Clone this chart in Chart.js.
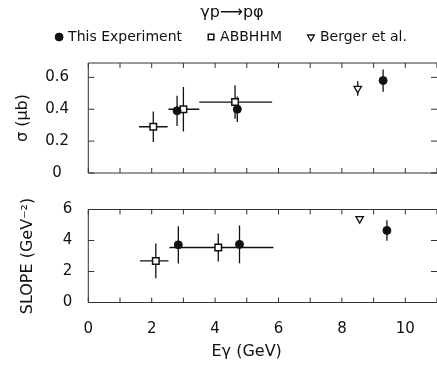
<!DOCTYPE html>
<html><head><meta charset="utf-8">
<script src="https://cdn.jsdelivr.net/npm/chart.js@4"></script>
<style>
html,body{margin:0;padding:0;background:#fff;overflow:hidden;width:437px;height:369px;}
canvas{position:absolute;left:0;}
#c1{top:0}
#c2{top:185px}
</style></head><body>
<canvas id="c1" width="437" height="182"></canvas>
<canvas id="c2" width="437" height="184"></canvas>
<script>
// ---- text ----
const reactionTitle = 'γp⟶pφ';
const seriesNames = ['This Experiment', 'ABBHHM', 'Berger et al.'];
const xTitle = 'Eγ (GeV)';
const sigmaTitle = 'σ (μb)';
const slopeTitle = 'SLOPE (GeV⁻²)';
const xTickLabels = ['0', '2', '4', '6', '8', '10'];
const sigmaTickLabels = ['0', '0.2', '0.4', '0.6'];
const slopeTickLabels = ['0', '2', '4', '6'];

// ---- cross section (top panel) ----
const sigmaExpE = [2.8, 4.7, 9.3];
const sigmaExp = [0.39, 0.40, 0.58];
const sigmaExpErr = [0.095, 0.08, 0.07];
const sigmaAbbE = [2.05, 3.0, 4.63];
const sigmaAbb = [0.29, 0.40, 0.445];
const sigmaAbbErr = [0.095, 0.14, 0.105];
const sigmaAbbElo = [1.6, 2.53, 3.5];
const sigmaAbbEhi = [2.5, 3.5, 5.8];
const sigmaBergerE = [8.5];
const sigmaBerger = [0.53];
const sigmaBergerErr = [0.045];

// ---- slope (bottom panel) ----
const slopeExpE = [2.84, 4.77, 9.42];
const slopeExp = [3.72, 3.75, 4.65];
const slopeExpErr = [1.2, 1.22, 0.66];
const slopeAbbE = [2.13, 4.1];
const slopeAbb = [2.68, 3.55];
const slopeAbbErr = [1.12, 0.9];
const slopeAbbElo = [1.63, 2.56];
const slopeAbbEhi = [2.53, 5.84];
const slopeBergerE = [8.56];
const slopeBerger = [5.4];

Chart.defaults.font.family = "'DejaVu Sans', sans-serif";
Chart.defaults.color = '#111';

function pts(xs, ys) { return xs.map((x, i) => ({x: x, y: ys[i]})); }

const INK = '#111';

const errorBars = {
  id: 'errorBars',
  beforeDatasetsDraw(chart) {
    const ctx = chart.ctx, x = chart.scales.x, y = chart.scales.y;
    ctx.save();
    ctx.strokeStyle = INK;
    ctx.lineWidth = 1.3;
    chart.data.datasets.forEach(ds => {
      ds.data.forEach((p, i) => {
        const px = x.getPixelForValue(p.x), py = y.getPixelForValue(p.y);
        ctx.beginPath();
        if (ds.yErr) {
          const e = ds.yErr[i];
          ctx.moveTo(px, y.getPixelForValue(p.y - e));
          ctx.lineTo(px, y.getPixelForValue(p.y + e));
        }
        if (ds.xLo) {
          ctx.moveTo(x.getPixelForValue(ds.xLo[i]), py);
          ctx.lineTo(x.getPixelForValue(ds.xHi[i]), py);
        }
        ctx.stroke();
      });
    });
    ctx.restore();
  }
};

const frame = {
  id: 'frame',
  beforeDatasetsDraw(chart) {
    const ctx = chart.ctx, a = chart.chartArea, x = chart.scales.x, y = chart.scales.y;
    ctx.save();
    ctx.strokeStyle = '#333';
    ctx.lineWidth = 1;
    ctx.beginPath();
    ctx.moveTo(a.right, a.top); ctx.lineTo(a.left, a.top);
    ctx.lineTo(a.left, a.bottom); ctx.lineTo(a.right, a.bottom);
    x.ticks.forEach(t => {
      const px = x.getPixelForValue(t.value);
      ctx.moveTo(px, a.bottom); ctx.lineTo(px, a.bottom - 5);
      ctx.moveTo(px, a.top); ctx.lineTo(px, a.top + 5);
    });
    y.ticks.forEach(t => {
      const py = y.getPixelForValue(t.value);
      ctx.moveTo(a.left, py); ctx.lineTo(a.left + 6, py);
      ctx.moveTo(a.right, py); ctx.lineTo(a.right - 6, py);
    });
    ctx.stroke();
    ctx.restore();
  }
};

function makeDatasets(expE, exp, expErr, abbE, abb, abbErr, abbLo, abbHi, berE, ber, berErr) {
  return [
    {label: seriesNames[0], data: pts(expE, exp), yErr: expErr,
     pointStyle: 'circle', pointRadius: 4, pointBackgroundColor: INK, backgroundColor: INK,
     pointBorderColor: INK, borderColor: INK, pointBorderWidth: 1},
    {label: seriesNames[1], data: pts(abbE, abb), yErr: abbErr, xLo: abbLo, xHi: abbHi,
     pointStyle: 'rect', pointRadius: 4.6, pointBackgroundColor: '#fff', backgroundColor: '#fff',
     pointBorderColor: INK, borderColor: INK, pointBorderWidth: 1.5},
    {label: seriesNames[2], data: pts(berE, ber), yErr: berErr,
     pointStyle: 'triangle', pointRotation: 180, pointRadius: 4.3, pointBackgroundColor: '#fff', backgroundColor: '#fff',
     pointBorderColor: INK, borderColor: INK, pointBorderWidth: 1.3}
  ];
}

const PAD_L = 27;
const Y_W = 61.3;

function xScale(showLabels) {
  return {
    type: 'linear', position: 'bottom', min: 0, max: 11,
    grid: {display: false, drawTicks: true, tickLength: 17.7}, border: {display: false},
    ticks: {
      display: showLabels, stepSize: 1, autoSkip: false, maxRotation: 0, padding: 0,
      font: {size: 15},
      callback: v => xTickLabels.includes(String(v)) ? String(v) : ''
    },
    title: showLabels ? {display: true, text: xTitle + '\u2003\u2003', font: {size: 16}, padding: {top: 0, bottom: 7.4}} : {display: false},
    afterFit: s => { s.height = showLabels ? 66.5 : 0; }
  };
}

function yScale(max, step, labels, title, titlePad, tickLen) {
  return {
    type: 'linear', position: 'left', min: 0, max: max,
    grid: {display: false, drawTicks: true, tickLength: tickLen}, border: {display: false},
    ticks: {
      stepSize: step, includeBounds: false, crossAlign: 'center', padding: 0,
      font: {size: 15},
      callback: v => { const s = String(+(+v).toFixed(1)); return labels.includes(s) ? s : ''; }
    },
    title: {display: true, text: title, font: {size: 16}, padding: {top: titlePad, bottom: 0}},
    afterFit: s => { s.width = Y_W; }
  };
}

new Chart(document.getElementById('c1'), {
  type: 'scatter',
  data: {datasets: makeDatasets(sigmaExpE, sigmaExp, sigmaExpErr, sigmaAbbE, sigmaAbb, sigmaAbbErr,
                                sigmaAbbElo, sigmaAbbEhi, sigmaBergerE, sigmaBerger, sigmaBergerErr)},
  options: {
    responsive: false, animation: false, clip: false,
    layout: {autoPadding: false, padding: {left: PAD_L, right: 0, top: 0, bottom: 0}},
    plugins: {
      tooltip: {enabled: false},
      legend: {
        display: true, position: 'top', align: 'center',
        title: {display: true, text: reactionTitle, position: 'center', color: INK,
                font: {size: 16}, padding: {top: 5, bottom: -21.2}},
        labels: {usePointStyle: true, boxWidth: 4, boxHeight: 5.6, padding: 27,
                 font: {size: 14}, color: INK}
      }
    },
    scales: {
      x: xScale(false),
      xTop: {type: 'linear', position: 'top', min: 0, max: 11, display: true,
             grid: {display: false}, border: {display: false}, ticks: {display: false},
             afterFit: s => { s.height = 9; }},
      y: yScale(0.69, 0.2, sigmaTickLabels, sigmaTitle, -14, 19.3)
    }
  },
  plugins: [frame, errorBars]
});

new Chart(document.getElementById('c2'), {
  type: 'scatter',
  data: {datasets: makeDatasets(slopeExpE, slopeExp, slopeExpErr, slopeAbbE, slopeAbb, slopeAbbErr,
                                slopeAbbElo, slopeAbbEhi, slopeBergerE, slopeBerger, null)},
  options: {
    responsive: false, animation: false, clip: false,
    layout: {autoPadding: false, padding: {left: PAD_L, right: 0, top: 24.5, bottom: 0}},
    plugins: {tooltip: {enabled: false}, legend: {display: false}},
    scales: {
      x: xScale(true),
      y: yScale(6, 2, slopeTickLabels, slopeTitle, -9, 16)
    }
  },
  plugins: [frame, errorBars]
});
</script></body></html>
